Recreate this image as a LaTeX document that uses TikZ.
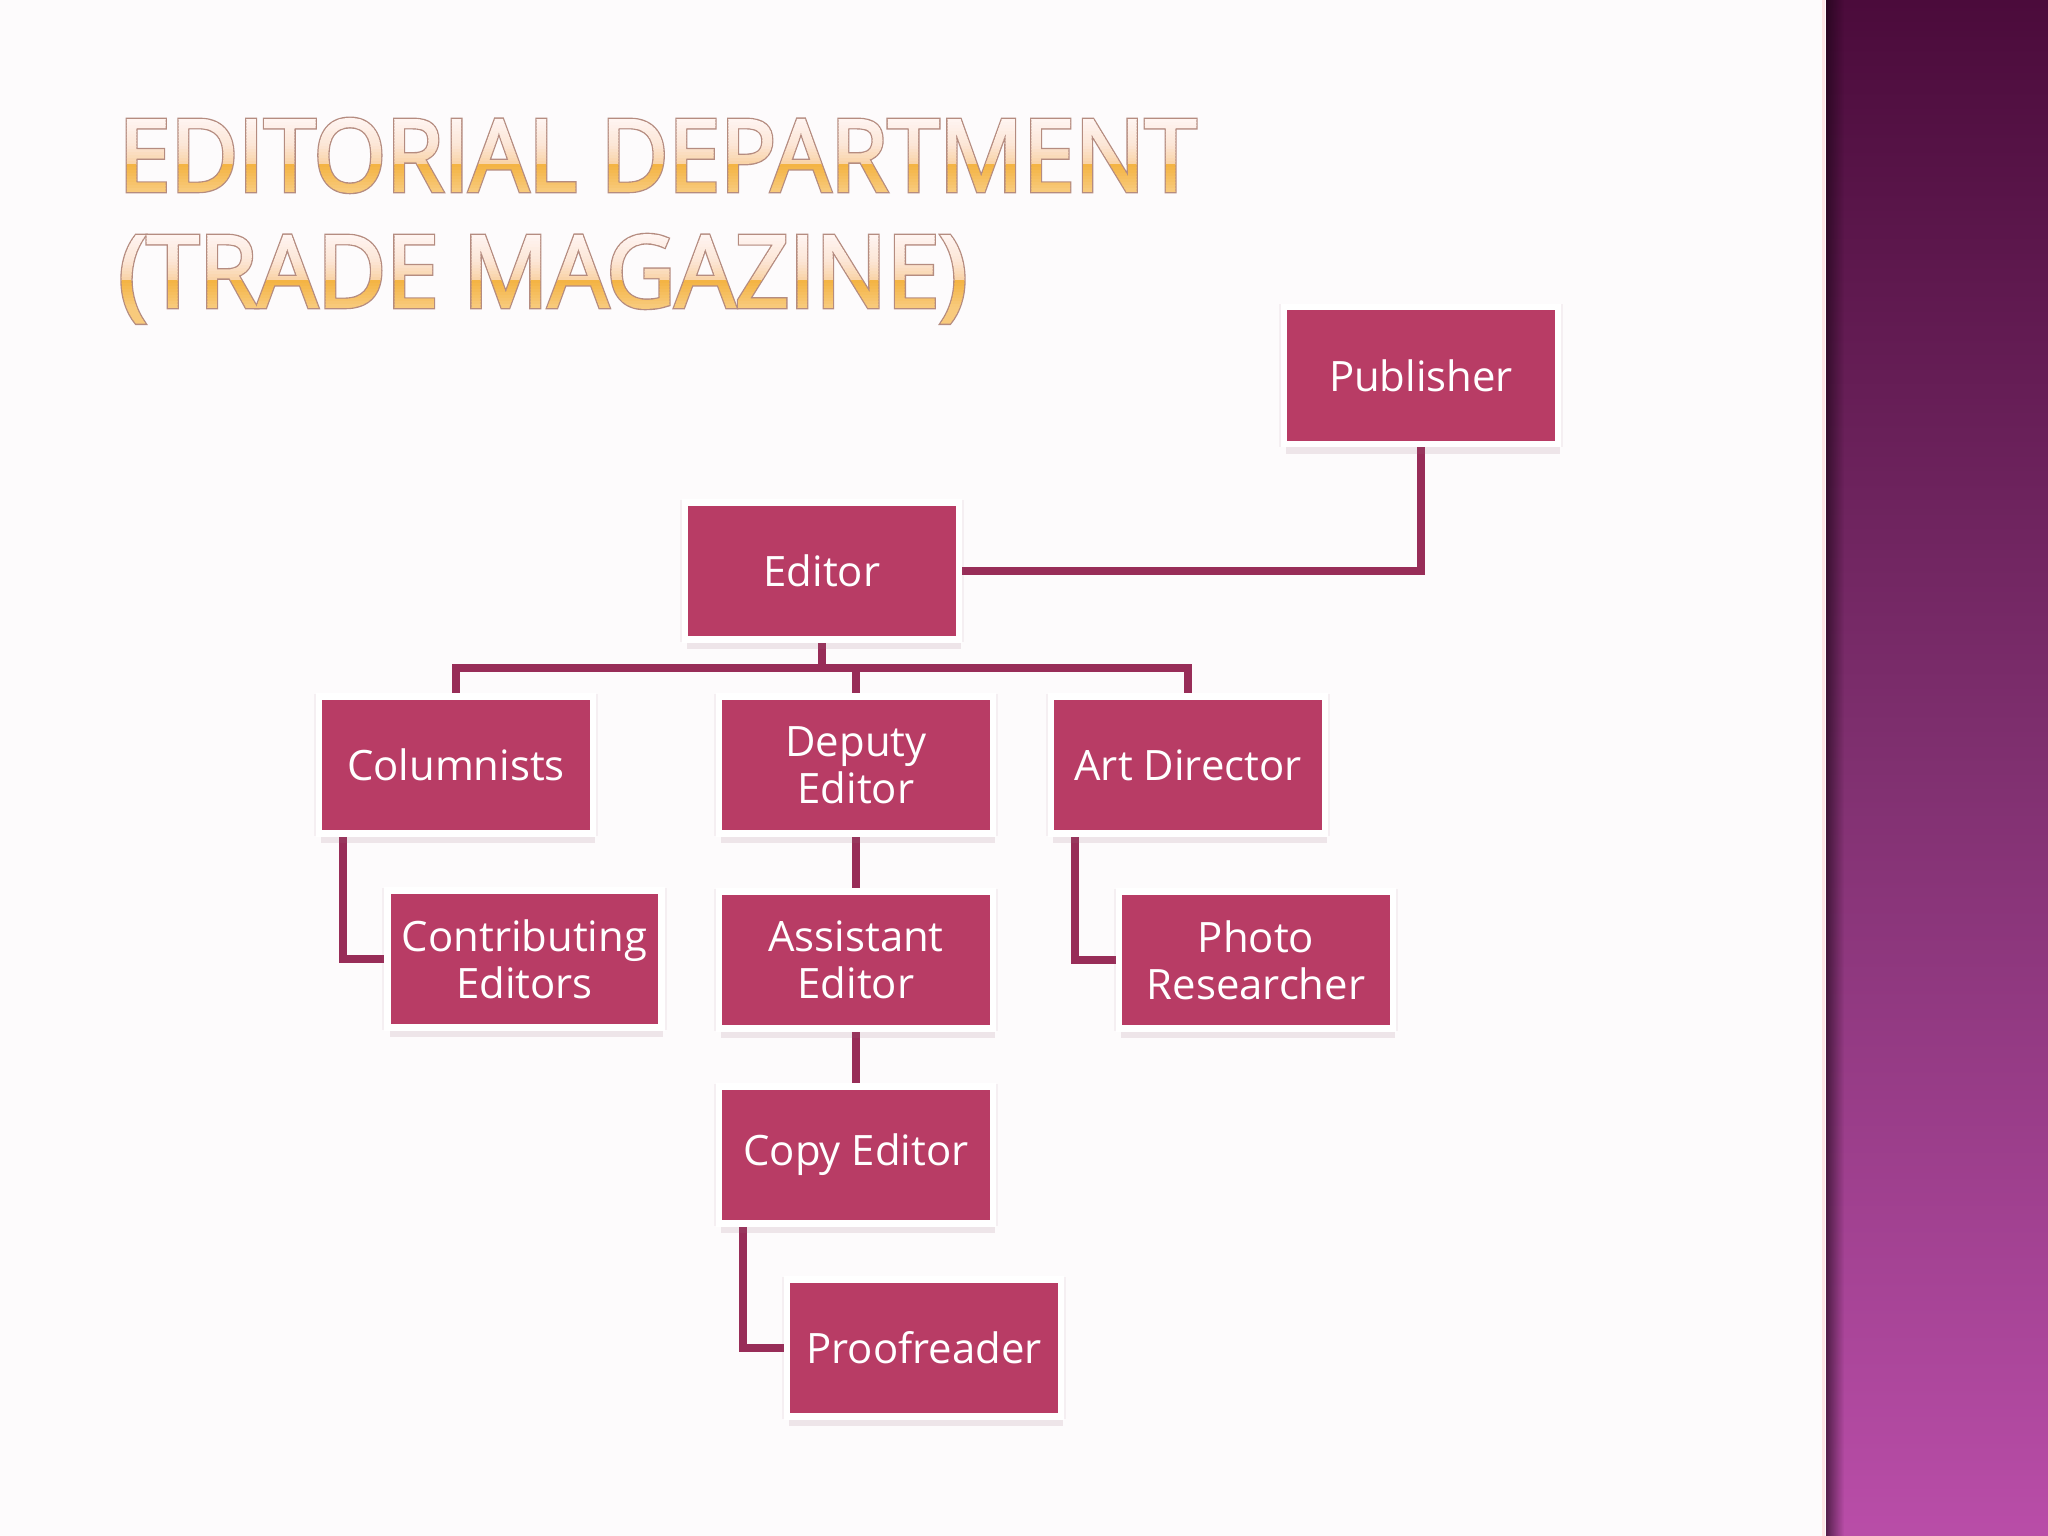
\documentclass[tikz,border=0pt]{standalone}
\usepackage{fontspec}
\setmainfont{Open Sans}
\newfontfamily\titlefont{Open Sans}[UprightFeatures={FakeBold=1.8}]
\newfontfamily\titleoutfont{Open Sans}[UprightFeatures={FakeBold=4.6}]
\usetikzlibrary{shadows,fadings,calc}
\definecolor{boxfill}{HTML}{B83C65}
\definecolor{linecol}{HTML}{982D58}
\definecolor{slidebg}{HTML}{FDFBFC}
\definecolor{titleline}{HTML}{B58C80}
\definecolor{shadowcol}{HTML}{9C6A80}
\definecolor{tA}{HTML}{F8CA7C}
\definecolor{tB}{HTML}{F4B444}
\definecolor{tC}{HTML}{F9D3A5}
\definecolor{tD}{HTML}{FCE6D6}
\definecolor{tE}{HTML}{FFF4F1}
\definecolor{barT}{HTML}{4B0B3B}
\definecolor{barM}{HTML}{803070}
\definecolor{barB}{HTML}{B94DA8}
\pgfdeclareverticalshading{barshade}{100bp}{color(0bp)=(barB); color(25bp)=(barB); color(50bp)=(barM); color(75bp)=(barT); color(100bp)=(barT)}
\pgfdeclarelayer{back}
\pgfdeclarelayer{lines}
\pgfsetlayers{back,lines,main}
\tikzset{
  orgbox/.style={draw=white, line width=0.065cm, fill=boxfill, text=white,
    minimum width=2.735cm, minimum height=1.365cm, inner sep=0pt, align=center,
    font=\fontsize{11.9pt}{13.4pt}\selectfont,
    drop shadow={shadow xshift=0cm, shadow yshift=0cm, shadow scale=1.04, opacity=0.08, fill=shadowcol},
    drop shadow={shadow xshift=0.02cm, shadow yshift=-0.1cm, opacity=0.15, fill=shadowcol}},
  link/.style={draw=linecol, line width=0.08cm},
  titleout/.style={anchor=base west, inner sep=0pt, text=titleline}
}
% gradient-filled title line: #1 left x, #2 baseline y (px), #3 width, #4 text
\newcommand\gradline[4]{%
  \node[titleout] at (#1,#2) {\titleoutfont\fontsize{28.3pt}{30pt}\selectfont\resizebox{#3}{\height}{#4}};
  \foreach \i in {0,...,36}{%
    \pgfmathsetmacro\ys{#2-71-16+3*\i}%
    \pgfmathsetmacro\ff{(\ys+1.5-(#2-71))/71}%
    \ifdim\ff pt<0pt \colorlet{stripcol}{tE}\else
    \ifdim\ff pt<0.35pt \pgfmathtruncatemacro\pp{\ff/0.35*100}\colorlet{stripcol}{tD!\pp!tE}\else
    \ifdim\ff pt<0.62pt \pgfmathtruncatemacro\pp{(\ff-0.35)/0.27*100}\colorlet{stripcol}{tC!\pp!tD}\else
    \ifdim\ff pt<0.645pt \colorlet{stripcol}{tB}\else
    \ifdim\ff pt<1pt \pgfmathtruncatemacro\pp{(\ff-0.645)/0.355*100}\colorlet{stripcol}{tA!\pp!tB}\else
    \colorlet{stripcol}{tA}\fi\fi\fi\fi\fi
    \begin{scope}
      \clip (#1-30,\ys) rectangle (#1+1150,\ys+3.4);
      \node[anchor=base west, inner sep=0pt, text=stripcol] at (#1,#2) {\titlefont\fontsize{28.3pt}{30pt}\selectfont\resizebox{#3}{\height}{#4}};
    \end{scope}
  }%
}
\begin{document}
\begin{tikzpicture}[x=0.01cm,y=-0.01cm]
\useasboundingbox (0,0) rectangle (2048,1536);
\begin{pgfonlayer}{back}
\fill[slidebg] (0,0) rectangle (1826,1536);
\shade[shading=barshade] (1826,0) rectangle (2048,1536);
\fill[black!70!barT, opacity=0.6, path fading=east] (1826,0) rectangle (1844,1536);
\fill[pink!40!white] (1822,0) rectangle (1825,1536);
\end{pgfonlayer}
% title
\gradline{118}{191}{10.77cm}{EDITORIAL DEPARTMENT}
\gradline{118}{307}{8.48cm}{(TRADE MAGAZINE)}
% boxes
\node[orgbox] (pub) at (1421,375.5) {Publisher};
\node[orgbox] (ed)  at (822,571) {Editor};
\node[orgbox] (col) at (456,765) {Columnists};
\node[orgbox] (dep) at (856,765) {Deputy\\Editor};
\node[orgbox] (art) at (1188,765) {Art Director};
\node[orgbox] (con) at (524.5,959) {Contributing\\Editors};
\node[orgbox] (ass) at (856,960) {Assistant\\Editor};
\node[orgbox] (pho) at (1256,960) {Photo\\Researcher};
\node[orgbox] (cop) at (856,1155) {Copy Editor};
\node[orgbox] (pro) at (924,1348) {Proofreader};
\coordinate (hub) at (822,668);
\begin{pgfonlayer}{lines}
\draw[link] (pub.south) |- (ed.east);
\draw[link] (ed.south) -- (hub) -| (col.north);
\draw[link] (hub) -| (art.north);
\draw[link] (hub) -| (dep.north);
\draw[link] (dep.south) -- (ass.north);
\draw[link] (ass.south) -- (cop.north);
\draw[link] ([xshift=0.27cm]col.south west) |- (con.west);
\draw[link] ([xshift=0.27cm]art.south west) |- (pho.west);
\draw[link] ([xshift=0.27cm]cop.south west) |- (pro.west);
\end{pgfonlayer}
\end{tikzpicture}
\end{document}
